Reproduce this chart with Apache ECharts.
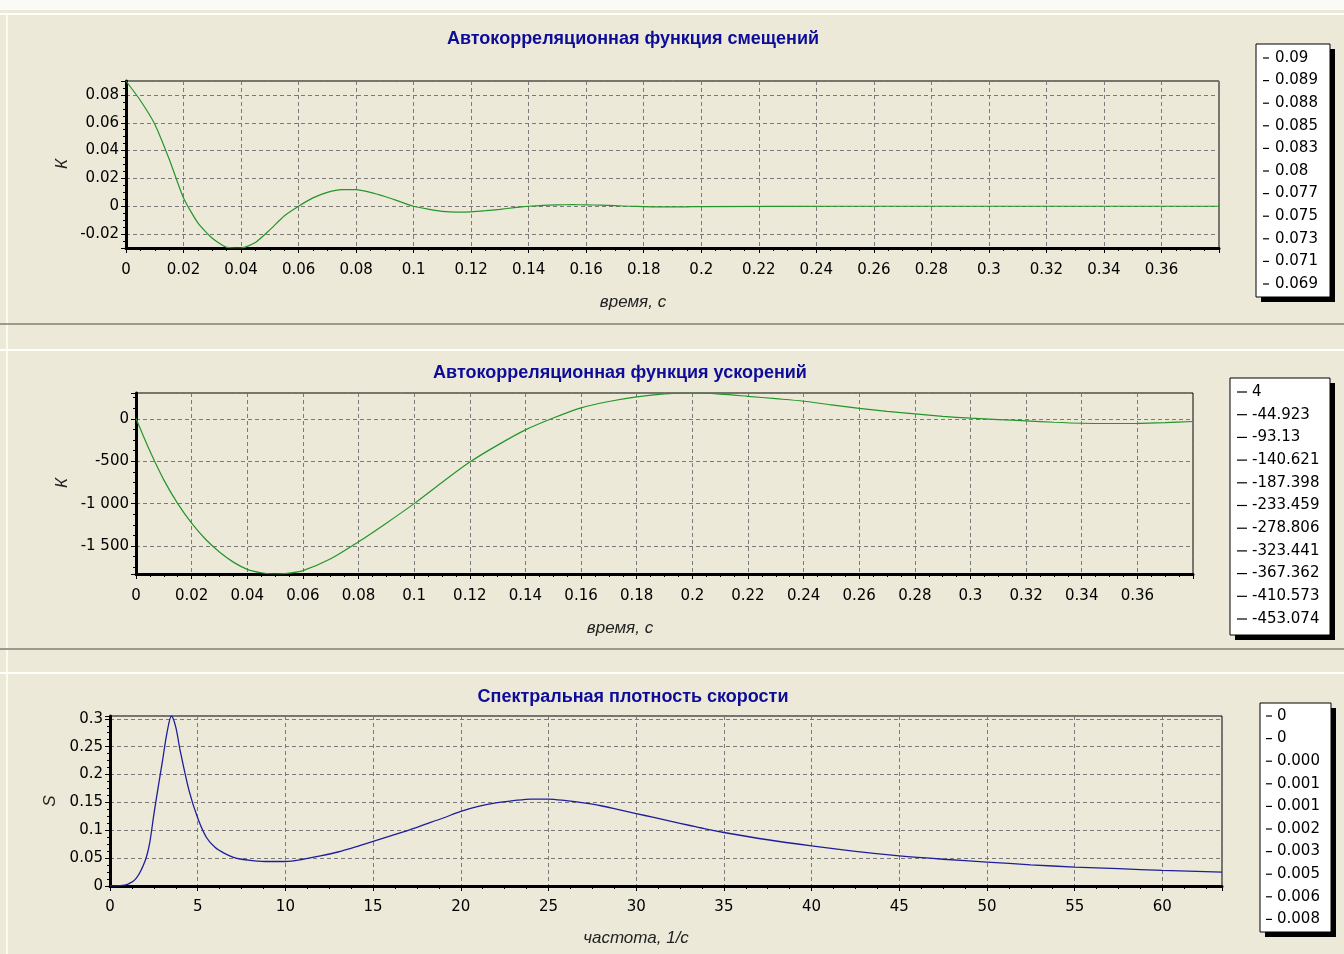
<!DOCTYPE html>
<html><head><meta charset="utf-8">
<script src="https://cdn.jsdelivr.net/npm/echarts@6/dist/echarts.min.js"></script>
<style>html,body{margin:0;padding:0;background:#ECE9D8}#c{width:1344px;height:954px}</style>
</head><body><div id="c"></div>
<script>
// ---- data ----
const time1 = [0,0.005,0.01,0.015,0.02,0.025,0.03,0.035,0.04,0.045,0.05,0.055,0.06,0.065,0.07,0.075,0.08,0.085,0.09,0.095,0.1,0.105,0.11,0.115,0.12,0.125,0.13,0.135,0.14,0.145,0.15,0.155,0.16,0.165,0.17,0.175,0.18,0.185,0.19,0.195,0.2,0.25,0.3,0.35,0.38];
const k1 = [0.09,0.076,0.059,0.034,0.006,-0.012,-0.023,-0.0295,-0.030,-0.026,-0.017,-0.007,0.000,0.006,0.010,0.012,0.012,0.010,0.007,0.0035,0.000,-0.002,-0.0037,-0.0042,-0.004,-0.0032,-0.0022,-0.001,0.0000,0.0007,0.001,0.0011,0.001,0.0008,0.0004,0.0000,-0.0003,-0.0005,-0.0005,-0.0004,-0.0002,0,0,0,0];

const time2 = [0,0.005,0.01,0.015,0.02,0.025,0.03,0.035,0.04,0.045,0.05,0.055,0.06,0.07,0.08,0.09,0.1,0.11,0.12,0.13,0.14,0.15,0.16,0.17,0.18,0.19,0.2,0.21,0.22,0.23,0.24,0.25,0.26,0.27,0.28,0.29,0.3,0.31,0.32,0.33,0.34,0.35,0.36,0.37,0.38];
const k2 = [4,-380,-720,-1000,-1230,-1420,-1570,-1690,-1775,-1815,-1830,-1820,-1790,-1650,-1450,-1230,-1000,-750,-510,-310,-130,10,130,205,260,295,305,292,266,238,208,165,124,88,58,30,8,-8,-23,-40,-52,-55,-54,-45,-31];

const freq3 = [0,0.5,1,1.5,2,2.25,2.5,2.75,3,3.25,3.5,3.75,4,4.5,5,5.5,6,6.5,7,7.5,8,9,10,11,12,13,14,15,16,17,18,19,20,21,22,23,24,25,26,27,28,29,30,31,32,33,34,35,37.5,40,42.5,45,47.5,50,52.5,55,57.5,60,63.4];
const s3 = [0,0.0005,0.003,0.014,0.045,0.075,0.128,0.178,0.226,0.275,0.305,0.285,0.243,0.172,0.122,0.087,0.069,0.059,0.052,0.048,0.046,0.044,0.044,0.048,0.054,0.061,0.070,0.080,0.090,0.100,0.111,0.122,0.134,0.143,0.149,0.153,0.156,0.156,0.153,0.149,0.144,0.137,0.130,0.123,0.116,0.109,0.102,0.096,0.083,0.072,0.062,0.054,0.048,0.043,0.038,0.034,0.031,0.028,0.025];

const titles = ['Автокорреляционная функция смещений','Автокорреляционная функция ускорений','Спектральная плотность скорости'];
const xNames = ['время, с','время, с','частота, 1/с'];
const yNames = ['К','К','S'];
const legend1 = ['0.09','0.089','0.088','0.085','0.083','0.08','0.077','0.075','0.073','0.071','0.069'];
const legend2 = ['4','-44.923','-93.13','-140.621','-187.398','-233.459','-278.806','-323.441','-367.362','-410.573','-453.074'];
const legend3 = ['0','0','0.000','0.001','0.001','0.002','0.003','0.005','0.006','0.008'];

// ---- layout ----
const NUMFONT = 'DejaVu Sans';
const grids = [
  {left:126, top:81, width:1093, height:167},
  {left:136, top:393, width:1057, height:181},
  {left:110, top:716, width:1112, height:170}
];
function thousand(v){
  const a = Math.abs(Math.round(v)).toString();
  const w = a.length > 3 ? a.slice(0,-3) + ' ' + a.slice(-3) : a;
  return (v < 0 ? '-' : '') + w;
}
function xAxis(i, min, max, interval, margin){
  return {
    type:'value', gridIndex:i, min:min, max:max, interval:interval,
    axisLine:{show:true, onZero:false, lineStyle:{color:'#000', width:3}},
    axisTick:{show:true, inside:false, length:5, lineStyle:{color:'#000', width:1}},
    minorTick:{show:true, splitNumber:4, length:3, lineStyle:{color:'#000', width:1}},
    splitLine:{show:true, lineStyle:{color:'#7a7a7a', width:1, type:[4,3]}},
    axisLabel:{color:'#000', fontSize:15, fontFamily:NUMFONT, margin:margin, showMaxLabel:false}
  };
}
function yAxis(i, min, max, interval, showMin, fmt){
  return {
    type:'value', gridIndex:i, min:min, max:max, minInterval:interval, maxInterval:interval, splitNumber:5,
    axisLine:{show:true, onZero:false, lineStyle:{color:'#000', width:3}},
    axisTick:{show:true, inside:false, length:5, lineStyle:{color:'#000', width:1}},
    minorTick:{show:true, splitNumber:4, length:3, lineStyle:{color:'#000', width:1}},
    splitLine:{show:true, lineStyle:{color:'#7a7a7a', width:1, type:[4,3]}},
    axisLabel:{color:'#000', fontSize:15, fontFamily:NUMFONT, margin:7, showMaxLabel:false, showMinLabel:showMin, formatter:fmt}
  };
}
function zip(xs, ys){ return xs.map((x,i)=>[x, ys[i]]); }

const graphic = [];
// window-like background pieces
graphic.push({type:'rect', z:-5, shape:{x:0,y:0,width:1344,height:10}, style:{fill:'#FAFAF6'}});
graphic.push({type:'line', z:-5, shape:{x1:0,y1:14,x2:1344,y2:14}, style:{stroke:'#FFFFFA', lineWidth:2}});
graphic.push({type:'line', z:-5, shape:{x1:7,y1:14,x2:7,y2:954}, style:{stroke:'#FFFFFA', lineWidth:1.5}});
graphic.push({type:'line', z:-5, shape:{x1:0,y1:324,x2:1344,y2:324}, style:{stroke:'#9C9A8C', lineWidth:2}});
graphic.push({type:'line', z:-5, shape:{x1:0,y1:350,x2:1344,y2:350}, style:{stroke:'#FFFFFA', lineWidth:2}});
graphic.push({type:'line', z:-5, shape:{x1:0,y1:649,x2:1344,y2:649}, style:{stroke:'#9C9A8C', lineWidth:2}});
graphic.push({type:'line', z:-5, shape:{x1:0,y1:673,x2:1344,y2:673}, style:{stroke:'#FFFFFA', lineWidth:2}});

// titles and axis names
const titlePos = [[633,39],[620,373],[633,697]];
const xNamePos = [[633,302],[620,628],[636,938]];
const yNamePos = [[62,164],[62,483],[50,801]];
for (let i=0;i<3;i++){
  graphic.push({type:'text', x:titlePos[i][0], y:titlePos[i][1], style:{text:titles[i], fill:'#0C0C98', font:'bold 18px "Liberation Sans", Arial, sans-serif', align:'center', verticalAlign:'middle'}});
  graphic.push({type:'text', x:xNamePos[i][0], y:xNamePos[i][1], style:{text:xNames[i], fill:'#222', font:'italic 17px "Liberation Sans", Arial, sans-serif', align:'center', verticalAlign:'middle'}});
  graphic.push({type:'text', x:yNamePos[i][0], y:yNamePos[i][1], rotation:Math.PI/2, style:{text:yNames[i], fill:'#222', font:'italic 17px "Liberation Sans", Arial, sans-serif', align:'center', verticalAlign:'middle'}});
}

// value legends
function legendBox(x, y, w, h, vals, firstY, step, dashX, dashW, textX){
  graphic.push({type:'rect', z:50, shape:{x:x+5, y:y+5, width:w, height:h}, style:{fill:'#000'}});
  graphic.push({type:'rect', z:51, shape:{x:x, y:y, width:w, height:h}, style:{fill:'#FFFFFF', stroke:'#000', lineWidth:1}});
  vals.forEach((v, j) => {
    const yy = firstY + j*step;
    graphic.push({type:'line', z:52, shape:{x1:dashX, y1:yy, x2:dashX+dashW, y2:yy}, style:{stroke:'#000', lineWidth:1.2}});
    graphic.push({type:'text', z:52, x:textX, y:yy, style:{text:v, fill:'#000', font:'15px "DejaVu Sans", sans-serif', align:'left', verticalAlign:'middle'}});
  });
}
legendBox(1256, 44, 74, 253, legend1, 58, 22.6, 1263, 6, 1275);
legendBox(1230, 378, 100, 257, legend2, 392, 22.7, 1237, 10, 1252);
legendBox(1260, 703, 71, 229, legend3, 716, 22.6, 1266, 6, 1277);

const option = {
  animation:false,
  backgroundColor:'#ECE9D8',
  graphic: graphic,
  grid: grids.map(g => Object.assign({show:true, borderColor:'#000', borderWidth:1, backgroundColor:'transparent'}, g)),
  xAxis: [xAxis(0, 0, 0.38, 0.02, 15), xAxis(1, 0, 0.38, 0.02, 15), xAxis(2, 0, 63.4, 5, 14)],
  yAxis: [yAxis(0, -0.03, 0.09, 0.02, false), yAxis(1, -1830, 305, 500, false, thousand), yAxis(2, 0, 0.305, 0.05, true)],
  series: [
    {type:'line', xAxisIndex:0, yAxisIndex:0, data:zip(time1, k1), showSymbol:false, smooth:0.2, lineStyle:{color:'#23952a', width:1.2}},
    {type:'line', xAxisIndex:1, yAxisIndex:1, data:zip(time2, k2), showSymbol:false, smooth:0.3, lineStyle:{color:'#23952a', width:1.2}},
    {type:'line', xAxisIndex:2, yAxisIndex:2, data:zip(freq3, s3), showSymbol:false, smooth:0.3, lineStyle:{color:'#1E1E9C', width:1.3}}
  ]
};
const chart = echarts.init(document.getElementById('c'), null, {renderer:'canvas'});
chart.setOption(option);
</script>
</body></html>
